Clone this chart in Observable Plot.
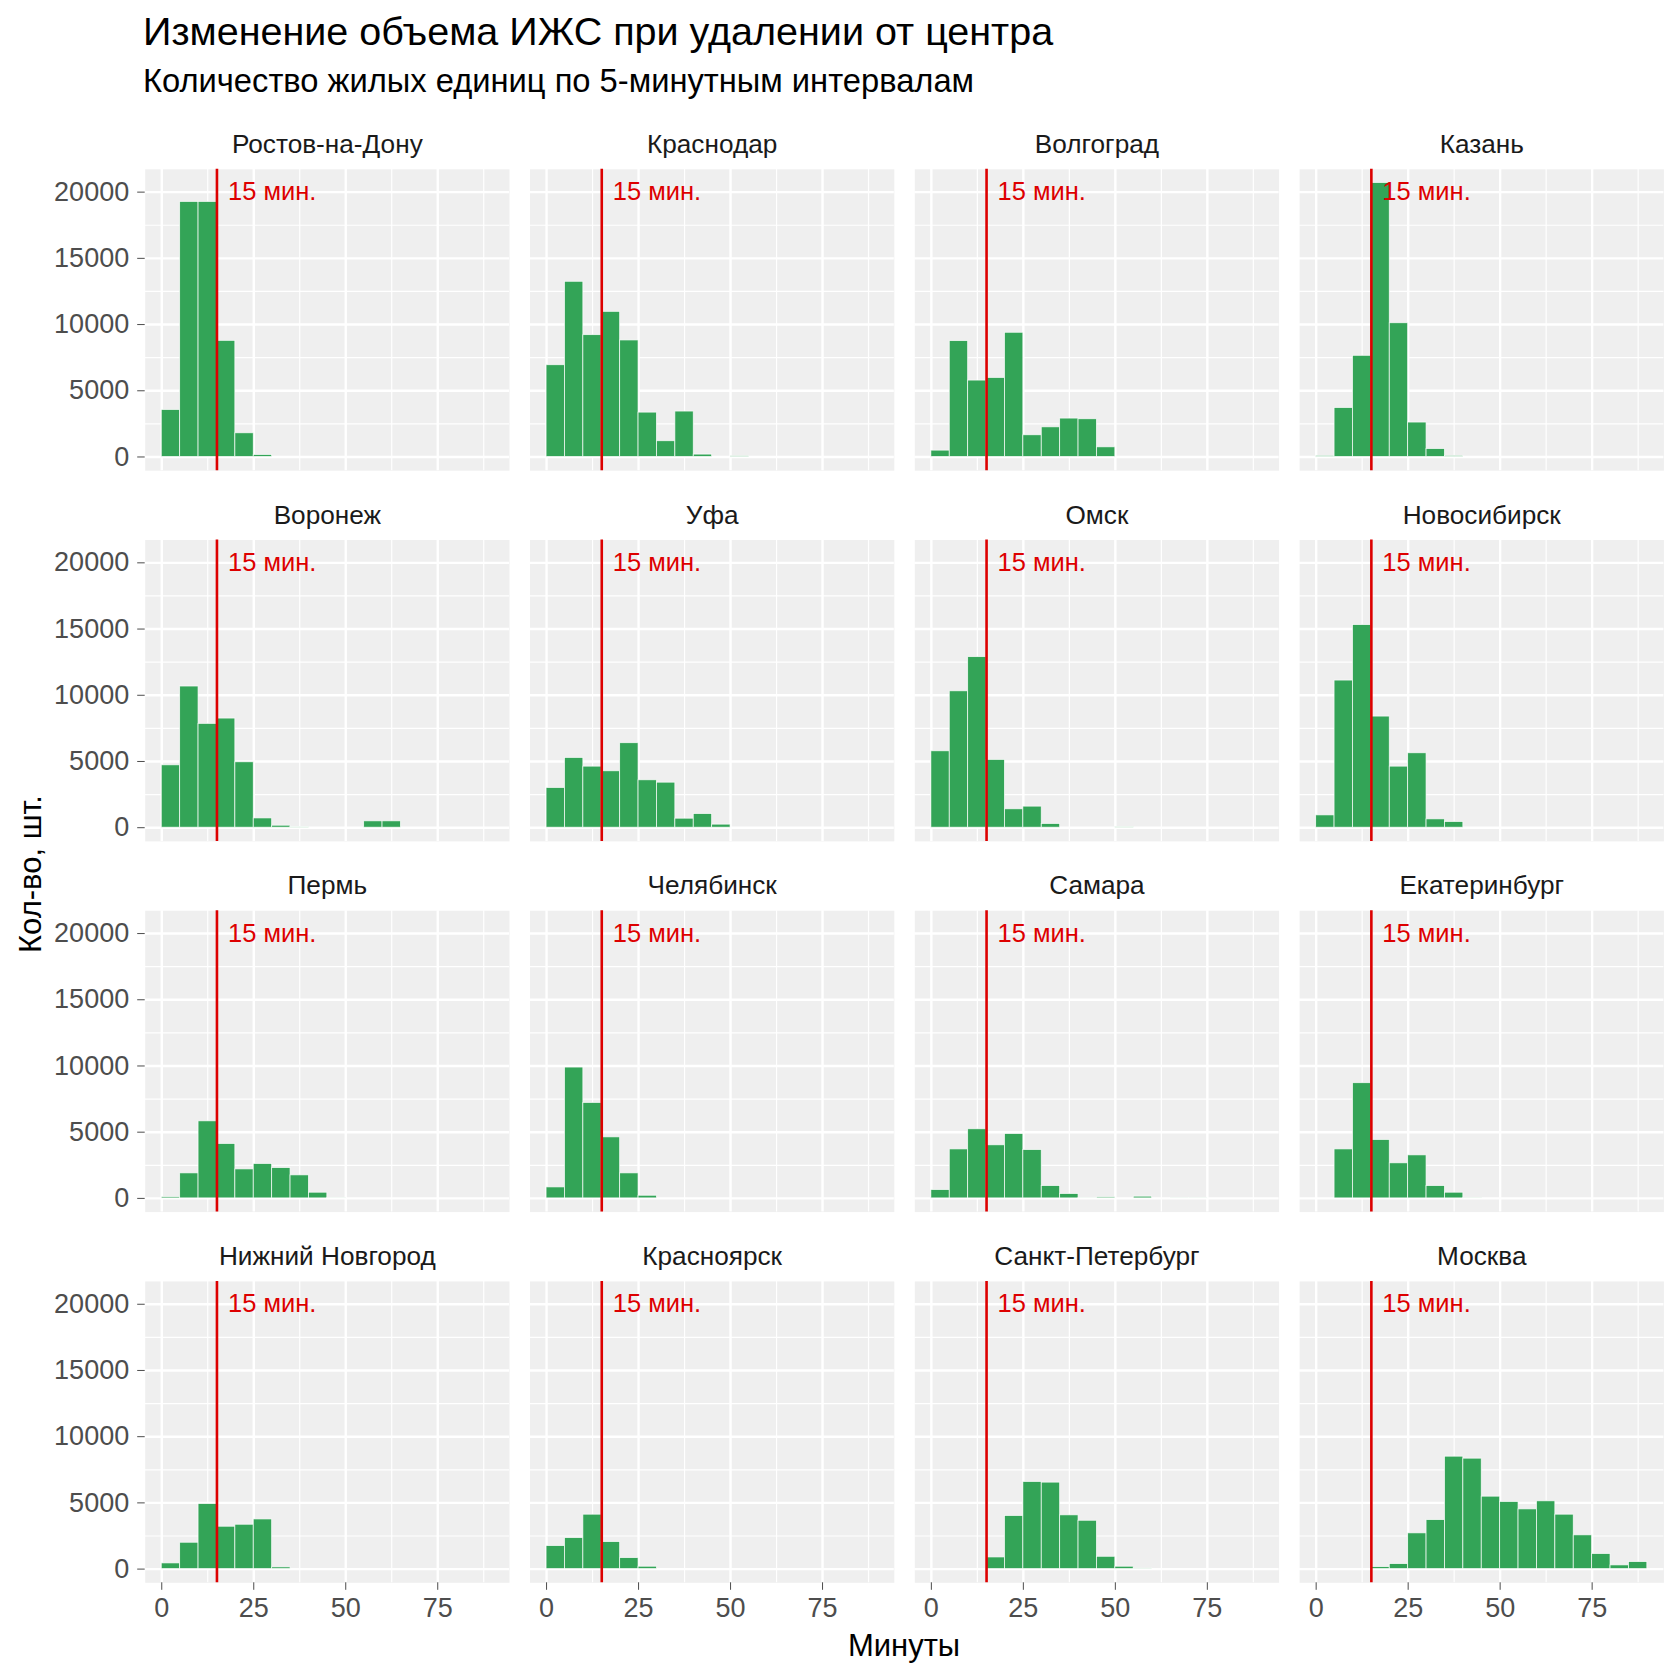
<!DOCTYPE html>
<html>
<head>
<meta charset="utf-8">
<script src="https://cdn.jsdelivr.net/npm/d3@7"></script>
<script src="https://cdn.jsdelivr.net/npm/@observablehq/plot@0.6"></script>
<style>
  body { margin: 0; background: #fff; font-family: "Liberation Sans", Arial, sans-serif; }
  #root { position: relative; width: 1680px; height: 1679px; }
  #header { position: relative; height: 110px; }
  .title { position: absolute; left: 143px; top: 12px; font-size: 39.5px; line-height: 39.5px; color: #000; white-space: nowrap; }
  .subtitle { position: absolute; left: 143px; top: 65px; font-size: 32.7px; line-height: 32.7px; color: #000; white-space: nowrap; }
  .xlab { position: absolute; left: 904px; top: 1645px; transform: translate(-50%, -50%); font-size: 31px; line-height: 31px; color: #000; white-space: nowrap; }
  .ylab { position: absolute; left: 30px; top: 874px; transform: translate(-50%, -50%) rotate(-90deg); font-size: 31px; line-height: 31px; color: #000; white-space: nowrap; }
  svg { display: block; }
</style>
</head>
<body>
<div id="root">
  <div id="header">
    <div class="title">Изменение объема ИЖС при удалении от центра</div>
    <div class="subtitle">Количество жилых единиц по 5-минутным интервалам</div>
  </div>
  <div id="chart"></div>
  <div class="xlab">Минуты</div>
  <div class="ylab">Кол-во, шт.</div>
</div>
<script>
// Facet order (row-major, 4 columns)
const cities = [
  "Ростов-на-Дону", "Краснодар", "Волгоград", "Казань",
  "Воронеж", "Уфа", "Омск", "Новосибирск",
  "Пермь", "Челябинск", "Самара", "Екатеринбург",
  "Нижний Новгород", "Красноярск", "Санкт-Петербург", "Москва"
];

// Counts per 5-minute bin, starting with bin [0,5)
const binWidth = 5;
const rostov      = [3550, 19260, 19260, 8770, 1790, 150];
const krasnodar   = [6930, 13230, 9200, 10960, 8800, 3350, 1190, 3430, 180, 0, 50];
const volgograd   = [480, 8750, 5770, 5970, 9380, 1640, 2240, 2900, 2850, 730];
const kazan       = [80, 3700, 7640, 20690, 10100, 2600, 600, 80];
const voronezh    = [4710, 10660, 7840, 8240, 4940, 700, 150, 50, 0, 0, 0, 480, 480];
const ufa         = [3000, 5270, 4610, 4260, 6380, 3580, 3400, 680, 1030, 230];
const omsk        = [5770, 10300, 12880, 5120, 1390, 1590, 280, 0, 0, 0, 60];
const novosibirsk = [930, 11110, 15300, 8390, 4610, 5620, 630, 430];
const perm        = [100, 1890, 5820, 4110, 2190, 2600, 2290, 1740, 430, 30];
const chelyabinsk = [830, 9880, 7210, 4610, 1890, 200];
const samara      = [630, 3700, 5220, 4010, 4860, 3650, 930, 330, 30, 80, 0, 130, 0, 30, 30];
const ekaterinburg= [0, 3700, 8700, 4410, 2650, 3250, 930, 430, 40];
const nizhny      = [430, 1990, 4910, 3200, 3350, 3750, 130];
const krasnoyarsk = [1740, 2340, 4110, 2040, 830, 180];
const spb         = [0, 0, 0, 880, 4010, 6580, 6530, 4060, 3650, 930, 180, 50];
const moscow      = [0, 0, 0, 150, 380, 2700, 3700, 8490, 8340, 5470, 5070, 4510, 5120, 4110, 2550, 1140, 280, 530];

const series = [rostov, krasnodar, volgograd, kazan, voronezh, ufa, omsk, novosibirsk,
                perm, chelyabinsk, samara, ekaterinburg, nizhny, krasnoyarsk, spb, moscow];

// Annotation
const cutoffMinute = 15;
const cutoffLabel = "15 мин.";
const cutoffLabelX = 30;
const cutoffLabelY = 20000;

// Ticks
const xTicks = [0, 25, 50, 75];
const xMinor = [12.5, 37.5, 62.5, 87.5];
const yTicks = [0, 5000, 10000, 15000, 20000];
const yMinor = [2500, 7500, 12500, 17500];

const ncol = 4;
const bars = [];
series.forEach((counts, i) => {
  counts.forEach((v, j) => {
    if (v > 0) bars.push({
      city: cities[i], col: i % ncol, row: Math.floor(i / ncol),
      x1: j * binWidth, x2: (j + 1) * binWidth, count: v
    });
  });
});
const panels = cities.map((c, i) => ({city: c, col: i % ncol, row: Math.floor(i / ncol)}));

const xmin = d3.min(bars, d => d.x1), xmax = d3.max(bars, d => d.x2);
const xpad = 0.05 * (xmax - xmin);
const ymax = d3.max(bars, d => d.count);
const ypad = 0.05 * ymax;

const font = "'Liberation Sans', Arial, sans-serif";

const chart = Plot.plot({
  width: 1680,
  height: 1569,
  marginLeft: 144.7,
  marginRight: 16.6,
  marginTop: 58.8,
  marginBottom: 96.7,
  style: {fontFamily: font, background: "white", overflow: "visible"},
  x: {domain: [xmin - xpad, xmax + xpad]},
  y: {domain: [-ypad, ymax + ypad]},
  fx: {axis: null, domain: [0, 1, 2, 3], paddingInner: 0.0533, paddingOuter: 0, round: false},
  fy: {axis: null, domain: [0, 1, 2, 3], paddingInner: 0.187, paddingOuter: 0, round: false},
  marks: [
    Plot.frame({fill: "#EFEFEF", stroke: "none"}),
    Plot.gridX(xMinor, {stroke: "white", strokeOpacity: 1, strokeWidth: 1.2}),
    Plot.gridY(yMinor, {stroke: "white", strokeOpacity: 1, strokeWidth: 1.2}),
    Plot.gridX(xTicks, {stroke: "white", strokeOpacity: 1, strokeWidth: 2.4}),
    Plot.gridY(yTicks, {stroke: "white", strokeOpacity: 1, strokeWidth: 2.4}),
    Plot.rectY(bars, {
      fx: "col", fy: "row", x1: "x1", x2: "x2", y1: 0, y2: "count",
      fill: "#33A457", stroke: "white", strokeWidth: 0.8, strokeOpacity: 0.85
    }),
    Plot.ruleX([cutoffMinute], {stroke: "#DD0000", strokeWidth: 2.6}),
    Plot.text([{x: cutoffLabelX, y: cutoffLabelY, t: cutoffLabel}], {
      x: "x", y: "y", text: "t", fill: "#DD0000", fontSize: 25.5
    }),
    Plot.text(panels, {
      fx: "col", fy: "row", text: "city", frameAnchor: "top", dy: -35,
      fontSize: 26.2, fill: "#1A1A1A"
    }),
    Plot.axisX(xTicks, {
      anchor: "bottom", facetAnchor: "bottom", tickSize: 7.5, tickPadding: 8,
      fontSize: 27, color: "#4D4D4D", label: null, tickFormat: d => String(d)
    }),
    Plot.axisY(yTicks, {
      anchor: "left", facetAnchor: "left", tickSize: 7.5, tickPadding: 8.5,
      fontSize: 27, color: "#4D4D4D", label: null, tickFormat: d => String(d)
    })
  ]
});
document.getElementById("chart").appendChild(chart);
</script>
</body>
</html>
